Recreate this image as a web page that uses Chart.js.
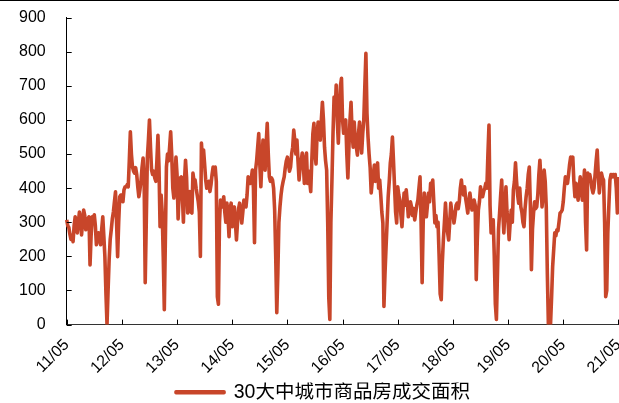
<!DOCTYPE html>
<html>
<head>
<meta charset="utf-8">
<script src="https://cdn.jsdelivr.net/npm/chart.js@4/dist/chart.umd.min.js"></script>
<style>
  html, body { margin: 0; padding: 0; background: #fff; }
  #wrap { width: 619px; height: 402px; border-top: 1px solid #000; overflow: hidden; }
</style>
</head>
<body>
<div id="wrap"><canvas id="c" width="634" height="411"></canvas></div>
<script>
// ======================
// DATA (weekly)
// ======================
const tickLabels = ["11/05", "12/05", "13/05", "14/05", "15/05", "16/05", "17/05", "18/05", "19/05", "20/05", "21/05"];
const seriesName = "30大中城市商品房成交面积";

const y2011 = [307, 290, 285, 265, 250, 260, 243, 290, 316, 300, 269, 300, 330, 310, 263, 300, 336, 320, 278, 290,
    310, 316, 175, 260, 316, 300, 322, 290, 234, 255, 269, 250, 234, 280, 316, 260, 199, 90, 0, 100,
    190, 250, 278, 310, 330, 360, 389, 300, 199, 300, 375, 380];
const y2012 = [380, 360, 395, 404, 404, 410, 404, 480, 565, 500, 462, 450, 444, 460, 440, 404, 375, 395, 420, 460,
    488, 420, 123, 300, 488, 540, 600, 520, 453, 440, 450, 430, 420, 480, 555, 460, 287, 380, 330, 200,
    44, 250, 462, 500, 480, 520, 565, 497, 400, 371, 430, 491];
const y2013 = [440, 310, 380, 430, 433, 380, 300, 420, 482, 430, 327, 360, 390, 330, 327, 444, 420, 424, 400, 380,
    360, 330, 200, 532, 480, 512, 470, 424, 400, 404, 420, 390, 410, 440, 462, 440, 462, 420, 82, 60,
    300, 365, 350, 345, 375, 330, 300, 356, 320, 258, 340, 356];
const y2014 = [287, 320, 345, 300, 248, 300, 340, 356, 330, 298, 330, 365, 350, 345, 380, 433, 420, 414, 430, 453,
    400, 240, 453, 480, 520, 560, 470, 404, 480, 541, 500, 453, 530, 590, 500, 433, 420, 430, 424, 400,
    336, 200, 35, 150, 300, 345, 380, 404, 420, 433, 460, 480];
const y2015 = [491, 470, 450, 462, 500, 520, 570, 540, 500, 541, 480, 424, 460, 480, 503, 470, 414, 480, 503, 414,
    450, 420, 390, 480, 560, 590, 500, 471, 560, 594, 560, 541, 600, 652, 600, 520, 480, 453, 300, 80,
    15, 300, 424, 560, 667, 620, 702, 600, 532, 620, 700, 722];
const y2016 = [600, 561, 580, 600, 500, 430, 520, 600, 652, 560, 520, 594, 540, 520, 497, 560, 594, 540, 503, 560,
    600, 700, 795, 620, 550, 500, 460, 386, 420, 440, 468, 420, 440, 474, 400, 424, 380, 330, 298, 53,
    150, 228, 300, 375, 420, 474, 500, 550, 480, 404, 330, 298];
const y2017 = [404, 380, 365, 320, 287, 340, 386, 350, 395, 360, 316, 330, 360, 345, 320, 340, 307, 330, 350, 365,
    400, 433, 300, 123, 300, 386, 350, 316, 350, 386, 360, 414, 400, 424, 360, 298, 320, 287, 300, 200,
    90, 73, 180, 248, 300, 356, 300, 270, 248, 300, 356, 330];
const y2018 = [330, 298, 320, 350, 356, 340, 360, 400, 424, 390, 380, 404, 370, 350, 327, 360, 386, 360, 336, 350,
    365, 350, 132, 250, 336, 360, 404, 380, 375, 390, 400, 414, 400, 500, 585, 350, 269, 280, 307, 200,
    60, 15, 150, 280, 327, 380, 424, 330, 269, 330, 404, 330];
const y2019 = [300, 249, 300, 336, 300, 395, 420, 474, 420, 380, 356, 400, 345, 330, 300, 287, 340, 375, 400, 440,
    462, 350, 161, 280, 327, 360, 340, 345, 380, 440, 482, 420, 345, 380, 453, 420, 345, 150, 0, 0,
    0, 80, 170, 220, 269, 260, 278, 275, 300, 327, 330, 336];
const y2020 = [360, 400, 433, 420, 414, 440, 470, 491, 480, 491, 420, 375, 414, 390, 365, 400, 433, 400, 365, 400,
    453, 300, 219, 444, 430, 440, 424, 400, 386, 400, 440, 480, 512, 440, 386, 420, 444, 430, 424, 300,
    82, 100, 269, 350, 424, 440, 433, 440, 433, 440, 400, 327];
const y2021 = [433];

const values = [].concat(y2011, y2012, y2013, y2014, y2015, y2016, y2017, y2018, y2019, y2020, y2021);

// one label per week, tick text only on the first week of each year
const weekLabels = values.map((v, i) => (i % 52 === 0 ? tickLabels[i / 52] : ""));

const LINE_COLOR = "#C8462A";

Chart.defaults.font.family = '"Liberation Sans", Arial, "Noto Sans CJK SC", sans-serif';
Chart.defaults.color = "#000";

// ======================
// INWARD TICK MARKS
// ======================
const inwardTicks = {
    id: "inwardTicks",
    afterDraw(chart) {
        const ctx = chart.ctx;
        const x = chart.scales.x;
        const y = chart.scales.y;
        ctx.save();
        ctx.strokeStyle = "#000";
        ctx.lineWidth = 1;
        ctx.beginPath();
        y.ticks.forEach((t, i) => {
            const py = Math.round(y.getPixelForTick(i)) + 0.5;
            ctx.moveTo(y.right, py);
            ctx.lineTo(y.right + 5, py);
        });
        weekLabels.forEach((lab, i) => {
            if (!lab) return;
            const px = Math.round(x.getPixelForValue(i)) + 0.5;
            ctx.moveTo(px, x.top);
            ctx.lineTo(px, x.top - 5);
        });
        ctx.stroke();
        ctx.restore();
    }
};

// ======================
// CHART
// ======================
new Chart(document.getElementById("c"), {
    type: "line",
    data: {
        labels: weekLabels,
        datasets: [{
            label: seriesName,
            data: values,
            borderColor: LINE_COLOR,
            backgroundColor: LINE_COLOR,
            borderWidth: 3.6,
            pointRadius: 0,
            tension: 0,
            borderJoinStyle: "round"
        }]
    },
    options: {
        responsive: false,
        animation: false,
        layout: { padding: { left: 12, right: 0, top: 0, bottom: 0 } },
        scales: {
            x: {
                grid: { display: false, drawTicks: true, tickLength: 9 },
                border: { display: true, color: "#333", width: 1 },
                ticks: {
                    autoSkip: false,
                    minRotation: 45,
                    maxRotation: 45,
                    padding: 2,
                    font: { size: 16 },
                    callback: (v, i) => weekLabels[i] || null
                },
                afterFit: (scale) => { scale.height += 3; }
            },
            y: {
                min: 0,
                max: 900,
                grid: { display: false, drawTicks: true, tickLength: 14 },
                border: { display: true, color: "#000", width: 1 },
                ticks: { stepSize: 100, padding: 7, font: { size: 16 } }
            }
        },
        plugins: {
            legend: {
                position: "bottom",
                labels: {
                    boxWidth: 48,
                    boxHeight: 1,
                    padding: 0,
                    font: { size: 19.5, lineHeight: 1 }
                }
            },
            tooltip: { enabled: false }
        }
    },
    plugins: [inwardTicks]
});
</script>
</body>
</html>
